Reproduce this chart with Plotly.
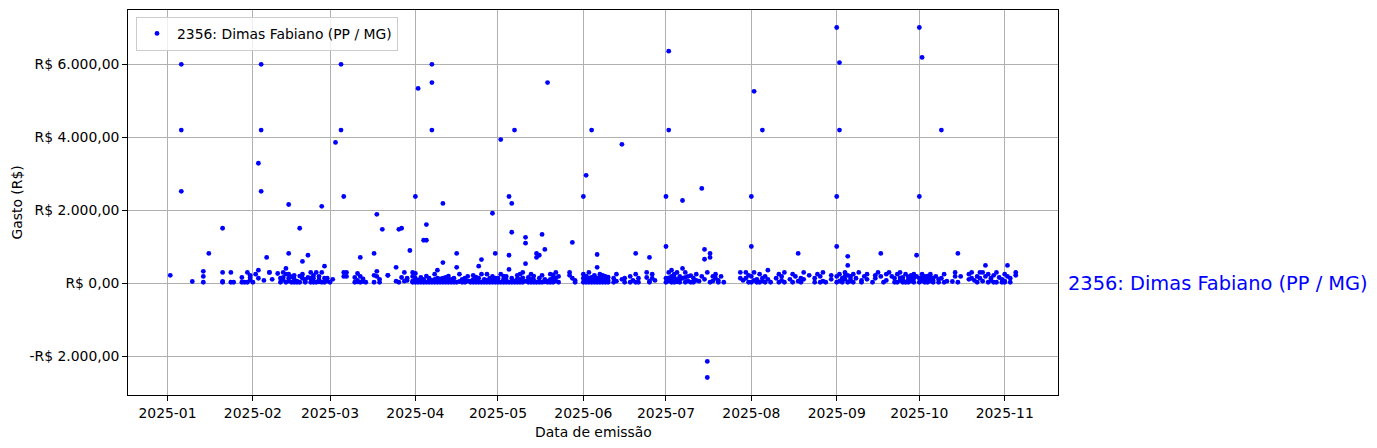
import pandas as pd
import plotly.graph_objects as go

# ---------------- data (day offset from 2025-01-01, value in R$) ----------------
serie_nome = "2356: Dimas Fabiano (PP / MG)"

jan = [(1, 220), (5, 6000), (5, 4200), (5, 2520), (9, 50), (13, 330), (13, 190), (13, 30),
       (15, 820), (20, 1510), (20, 50), (20, 30), (20, 300), (23, 300), (23, 30), (24, 30),
       (27, 160), (27, 30), (28, 30), (29, 300), (29, 30), (30, 160), (30, 220), (30, 90)]

fev = [(31, 30), (32, 250), (33, 360), (33, 140), (33, 3290), (34, 6000), (34, 4200), (34, 2520),
       (35, 80), (36, 710), (37, 300), (37, 300), (38, 110), (40, 270), (41, 140), (41, 30),
       (42, 300), (42, 160), (42, 90), (43, 250), (43, 410), (43, 30), (44, 140), (44, 820),
       (44, 2160), (44, 250), (44, 60), (45, 180), (45, 30), (46, 220), (46, 30), (47, 30),
       (47, 60), (48, 1510), (48, 30), (49, 250), (49, 600), (49, 140), (50, 110), (50, 30),
       (51, 770), (51, 160), (52, 300), (52, 140), (52, 30), (53, 30), (53, 140), (54, 300),
       (54, 30), (55, 190), (55, 100), (56, 2110), (56, 300), (56, 30), (57, 470), (57, 140),
       (58, 140), (58, 60), (46, 120), (48, 200), (50, 60), (53, 220), (55, 40), (57, 30)]

mar = [(59, 30), (60, 110), (61, 3860), (63, 6000), (63, 4200), (64, 2380), (64, 300), (64, 190),
       (65, 300), (65, 190), (68, 160), (68, 30), (69, 270), (69, 80), (70, 710), (70, 30),
       (70, 190), (71, 50), (72, 30), (75, 820), (75, 220), (75, 30), (76, 1890), (76, 190),
       (76, 330), (77, 30), (78, 1480), (80, 220), (80, 220), (83, 440), (83, 60), (84, 1480),
       (84, 30), (85, 1510), (85, 160), (86, 300), (87, 80), (87, 140), (88, 900), (89, 300),
       (89, 190), (89, 30), (89, 60), (69, 40), (71, 120), (77, 110), (86, 60)]

abr = [(90, 2380), (90, 30), (90, 140), (90, 270), (91, 5340), (91, 30), (91, 90), (92, 30),
       (92, 60), (92, 160), (93, 1180), (93, 30), (93, 110), (94, 1180), (94, 1610), (94, 30),
       (94, 200), (95, 50), (95, 140), (95, 30), (96, 6000), (96, 5500), (96, 4200), (96, 30),
       (96, 80), (97, 30), (97, 110), (97, 250), (98, 360), (98, 30), (98, 140), (99, 60),
       (99, 30), (100, 2190), (100, 570), (100, 140), (100, 30), (101, 30), (101, 80),
       (102, 110), (102, 30), (102, 200), (103, 30), (103, 60), (104, 30), (104, 140),
       (105, 820), (105, 440), (105, 30), (106, 250), (106, 50), (107, 110), (108, 30),
       (108, 140), (109, 60), (110, 30), (110, 60), (111, 220), (111, 30), (112, 80),
       (112, 30), (113, 470), (113, 140), (113, 30), (114, 650), (114, 250), (114, 30),
       (115, 110), (115, 30), (115, 60), (116, 250), (116, 30), (117, 140), (117, 30),
       (117, 60), (118, 1920), (118, 30), (118, 190), (119, 820), (119, 140), (119, 30),
       (92, 100), (95, 90), (97, 60), (99, 120), (101, 160), (103, 110), (107, 30),
       (109, 190), (111, 110), (112, 170), (116, 90), (118, 80)]

mai = [(120, 30), (120, 140), (120, 60), (121, 3940), (121, 30), (121, 250), (122, 110),
       (122, 30), (123, 30), (123, 190), (124, 2380), (124, 770), (124, 380), (124, 30),
       (125, 2190), (125, 1400), (125, 140), (125, 30), (126, 4200), (126, 60), (126, 30),
       (127, 220), (127, 30), (128, 30), (128, 110), (129, 300), (129, 30), (130, 1260),
       (130, 1100), (130, 540), (130, 60), (131, 30), (131, 160), (132, 250), (132, 30),
       (133, 30), (133, 90), (134, 820), (134, 710), (134, 30), (135, 770), (135, 140),
       (135, 30), (136, 1340), (136, 220), (136, 30), (137, 930), (137, 110), (138, 5500),
       (138, 30), (138, 60), (139, 250), (139, 30), (140, 140), (140, 30), (141, 300),
       (141, 60), (142, 30), (142, 190), (146, 300), (146, 220), (147, 1120), (147, 140),
       (148, 80), (148, 30), (122, 200), (123, 90), (127, 120), (128, 250), (129, 150),
       (131, 80), (132, 120), (133, 200), (137, 40), (139, 110), (140, 230), (141, 150)]

jun = [(151, 2380), (151, 30), (151, 140), (151, 250), (152, 2960), (152, 30), (152, 110),
       (153, 300), (153, 60), (153, 30), (154, 4200), (154, 160), (154, 30), (155, 220),
       (155, 30), (155, 80), (156, 790), (156, 440), (156, 140), (156, 30), (157, 250),
       (157, 30), (157, 60), (158, 110), (158, 30), (159, 190), (159, 30), (160, 80),
       (160, 30), (162, 30), (162, 140), (163, 250), (163, 60), (165, 3810), (165, 110),
       (166, 30), (166, 140), (168, 190), (168, 30), (169, 80), (170, 820), (170, 250),
       (170, 30), (171, 140), (171, 30), (174, 300), (174, 160), (175, 710), (175, 60),
       (175, 30), (176, 250), (176, 140), (177, 80), (152, 200), (153, 150), (154, 90),
       (155, 150), (157, 180), (158, 220), (159, 110), (160, 170)]

jul = [(181, 2380), (181, 1010), (181, 30), (181, 140), (182, 6360), (182, 4200), (182, 300),
       (182, 60), (183, 360), (183, 30), (183, 190), (184, 160), (184, 30), (185, 300),
       (185, 110), (186, 190), (186, 30), (187, 2270), (187, 410), (187, 140), (188, 300),
       (188, 30), (189, 190), (189, 60), (190, 30), (191, 140), (191, 30), (192, 250),
       (192, 80), (193, 60), (194, 2600), (194, 190), (195, 930), (195, 660), (195, 110),
       (196, -2140), (196, -2580), (196, 300), (197, 820), (197, 710), (197, 30), (198, 190),
       (198, 60), (199, 250), (199, 140), (200, 80), (200, 30), (201, 190), (202, 30),
       (208, 300), (208, 140), (209, 80), (210, 300), (210, 140), (211, 220), (211, 30),
       (182, 150), (183, 100), (184, 250), (185, 40), (186, 110), (188, 160), (190, 210)]

ago = [(212, 2380), (212, 1010), (212, 190), (212, 30), (213, 5260), (213, 300), (213, 80),
       (214, 110), (214, 30), (215, 250), (215, 30), (216, 4200), (216, 140), (216, 60),
       (217, 190), (217, 30), (218, 360), (218, 110), (219, 30), (221, 140), (222, 250),
       (222, 30), (223, 190), (223, 80), (224, 300), (224, 30), (226, 110), (227, 250),
       (227, 30), (228, 190), (229, 820), (229, 60), (230, 140), (230, 30), (231, 300),
       (231, 110), (233, 220), (235, 30), (235, 140), (236, 250), (237, 190), (237, 30),
       (238, 300), (238, 60), (239, 30), (241, 110), (241, 220)]

set_ = [(243, 7010), (243, 2380), (243, 1010), (243, 190), (243, 30), (244, 6050), (244, 4200),
        (244, 250), (244, 60), (245, 140), (245, 30), (246, 300), (246, 110), (247, 740),
        (247, 490), (247, 220), (247, 30), (248, 190), (248, 60), (249, 250), (249, 30),
        (250, 140), (251, 300), (252, 80), (252, 30), (253, 190), (254, 250), (254, 110),
        (256, 30), (257, 220), (257, 140), (258, 300), (259, 820), (259, 190), (260, 30),
        (261, 250), (261, 80), (262, 300), (263, 190), (264, 30), (264, 140), (265, 250),
        (265, 30), (266, 80), (266, 300), (267, 160), (267, 30), (268, 250), (269, 110),
        (269, 30), (270, 220), (270, 60), (271, 140), (271, 30), (272, 770), (272, 190),
        (245, 90), (246, 200), (248, 120), (266, 150), (267, 90), (268, 30), (269, 180),
        (270, 120), (271, 250)]

out = [(273, 7010), (273, 2380), (273, 140), (273, 30), (274, 6190), (274, 250), (274, 60),
       (275, 190), (275, 30), (276, 110), (276, 30), (277, 250), (277, 140), (278, 30),
       (278, 80), (279, 190), (280, 30), (280, 110), (281, 4200), (281, 140), (282, 250),
       (282, 30), (283, 60), (285, 50), (286, 300), (286, 190), (287, 820), (287, 30),
       (288, 190), (291, 250), (291, 110), (292, 300), (292, 140), (293, 80), (294, 190),
       (294, 30), (295, 300), (295, 140), (296, 300), (296, 60), (297, 490), (297, 190),
       (298, 30), (298, 250), (299, 140), (299, 80), (300, 220), (300, 30), (301, 300),
       (301, 30), (302, 160), (303, 110), (303, 30), (274, 140), (275, 100), (276, 200),
       (277, 60), (278, 150)]

nov = [(304, 250), (304, 60), (304, 30), (305, 490), (305, 190), (306, 140), (306, 30),
       (308, 300), (308, 220)]

y_tickvals = [-2000, 0, 2000, 4000, 6000]
y_ticktext = ["-R$ 2.000,00", "R$ 0,00", "R$ 2.000,00", "R$ 4.000,00", "R$ 6.000,00"]
x_tickvals = ["2025-01-01", "2025-02-01", "2025-03-01", "2025-04-01", "2025-05-01", "2025-06-01",
              "2025-07-01", "2025-08-01", "2025-09-01", "2025-10-01", "2025-11-01"]
x_ticktext = ["2025-01", "2025-02", "2025-03", "2025-04", "2025-05", "2025-06",
              "2025-07", "2025-08", "2025-09", "2025-10", "2025-11"]

# ---------------- build ----------------
base = pd.Timestamp("2025-01-01")
pontos = jan + fev + mar + abr + mai + jun + jul + ago + set_ + out + nov
dias = [d for d, v in pontos]
valores = [v for d, v in pontos]
datas = [base + pd.Timedelta(days=d) for d in dias]

dmin, dmax = min(dias), max(dias)
dspan = dmax - dmin
x_range = [base + pd.Timedelta(days=dmin - 0.05 * dspan), base + pd.Timedelta(days=dmax + 0.05 * dspan)]
vmin, vmax = min(valores), max(valores)
vspan = vmax - vmin
y_range = [vmin - 0.05 * vspan, vmax + 0.05 * vspan]

FONT = "DejaVu Sans"
fig = go.Figure()
fig.add_trace(go.Scatter(
    x=datas, y=valores, mode="markers", name=serie_nome,
    marker=dict(color="blue", size=4.8, line=dict(width=0)),
))

axis_common = dict(
    showgrid=True, gridcolor="#b0b0b0", gridwidth=0.8,
    showline=True, linecolor="black", linewidth=0.8, mirror=True,
    ticks="outside", ticklen=5, tickwidth=0.8, tickcolor="black",
    zeroline=False, tickfont=dict(family=FONT, size=13.9, color="black"),
)
fig.update_xaxes(range=x_range, tickmode="array", tickvals=x_tickvals, ticktext=x_ticktext, **axis_common)
fig.update_yaxes(range=y_range, tickmode="array", tickvals=y_tickvals, ticktext=y_ticktext, **axis_common)

fig.update_layout(
    width=1377, height=448,
    margin=dict(l=128, r=319, t=10, b=53),
    paper_bgcolor="white", plot_bgcolor="white",
    font=dict(family=FONT, size=13.9, color="black"),
    showlegend=True,
    legend=dict(x=0.0086, y=0.982, xanchor="left", yanchor="top",
                bgcolor="rgba(255,255,255,0.8)", bordercolor="#cccccc", borderwidth=1,
                font=dict(family=FONT, size=13.9, color="black")),
    annotations=[
        dict(text="Data de emissão", xref="paper", yref="paper", x=0.5, y=0, yshift=-27,
             xanchor="center", yanchor="top", showarrow=False,
             font=dict(family=FONT, size=13.9, color="black")),
        dict(text="Gasto (R$)", xref="paper", yref="paper", x=0, y=0.5, xshift=-112,
             xanchor="center", yanchor="middle", textangle=-90, showarrow=False,
             font=dict(family=FONT, size=13.9, color="black")),
        dict(text=serie_nome, xref="paper", yref="y", x=1, y=0, xshift=8,
             xanchor="left", yanchor="middle", showarrow=False,
             font=dict(family=FONT, size=19.4, color="blue")),
    ],
)

fig.write_html("out.html", config={"displayModeBar": False},
               post_script="document.body.style.margin='0px';document.body.style.overflow='hidden';")
